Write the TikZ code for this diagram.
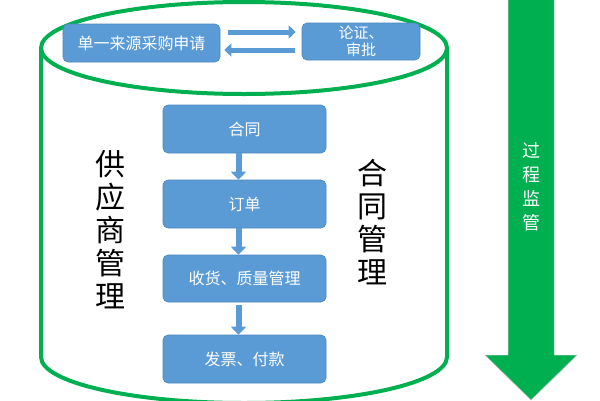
\documentclass[tikz,border=0pt]{standalone}
\usepackage{fontspec}
\setmainfont{Noto Sans CJK SC}
\usetikzlibrary{arrows.meta}
\definecolor{boxblue}{HTML}{5B9BD5}
\definecolor{boxedge}{HTML}{4A86C0}
\definecolor{cylgreen}{HTML}{00B050}
\begin{document}
\begin{tikzpicture}[x=1pt,y=-1pt,
  bbox/.style={draw=boxedge,fill=boxblue,rounded corners=5pt,line width=0.6pt,text=white,font=\fontsize{16}{17}\selectfont,inner sep=0pt,align=center},
  flowarrow/.style={draw=boxblue,line width=6pt,-{Triangle[width=15pt,length=8pt]}},
  toparrow/.style={draw=boxblue,line width=5pt,-{Triangle[width=13pt,length=7pt]}},
  vtext/.style={align=center,font=\fontsize{30}{33}\selectfont}]
\useasboundingbox (0,0) rectangle (600,400);
\begin{scope}
\clip (0,0) rectangle (600,400);
% cylinder
\draw[cylgreen,line width=4pt] (244,48) ellipse [x radius=203, y radius=46];
\draw[cylgreen,line width=4pt] (41,48) -- (41,357) arc[start angle=180,end angle=0,x radius=203,y radius=46] -- (447,48);
% green arrow
\draw[draw=gray!50,fill=cylgreen,line width=0.5pt] (508,-2) -- (554,-2) -- (554,355) -- (577,355) -- (531,400) -- (485,355) -- (508,355) -- cycle;
\end{scope}
\node[white,align=center,font=\fontsize{18}{24}\selectfont] (gm) at (531,187) {过\\程\\监\\管};
% top boxes
\node[bbox,minimum width=157pt,minimum height=38pt] (req) at (141.5,43) {单一来源采购申请};
\node[bbox,minimum width=118pt,minimum height=37pt,font=\fontsize{15}{17}\selectfont] (appr) at (361,41.5) {论证、\\审批};
\draw[toparrow] ([xshift=8pt,yshift=11pt]req.east) -- ([xshift=-6pt,yshift=9.5pt]appr.west);
\draw[toparrow] ([xshift=-7pt,yshift=-8.5pt]appr.west) -- ([xshift=4pt,yshift=-7pt]req.east);
% flow boxes
\node[bbox,minimum width=163pt,minimum height=48pt] (b1) at (244.5,129) {合同};
\node[bbox,minimum width=163pt,minimum height=48pt] (b2) at (244.5,204) {订单};
\node[bbox,minimum width=163pt,minimum height=47pt] (b3) at (244.5,278.5) {收货、质量管理};
\node[bbox,minimum width=163pt,minimum height=48pt] (b4) at (244.5,359) {发票、付款};
\draw[flowarrow] ([xshift=-6pt]b1.south) -- ([xshift=-6pt]b2.north);
\draw[flowarrow] ([xshift=-6pt]b2.south) -- ([xshift=-6pt]b3.north);
\draw[flowarrow] ([xshift=-6pt,yshift=-3pt]b3.south) -- ([xshift=-6pt]b4.north);
% vertical labels
\node[vtext] (sup) at (110,230) {供\\应\\商\\管\\理};
\node[vtext] (con) at (372,222) {合\\同\\管\\理};
\end{tikzpicture}
\end{document}
